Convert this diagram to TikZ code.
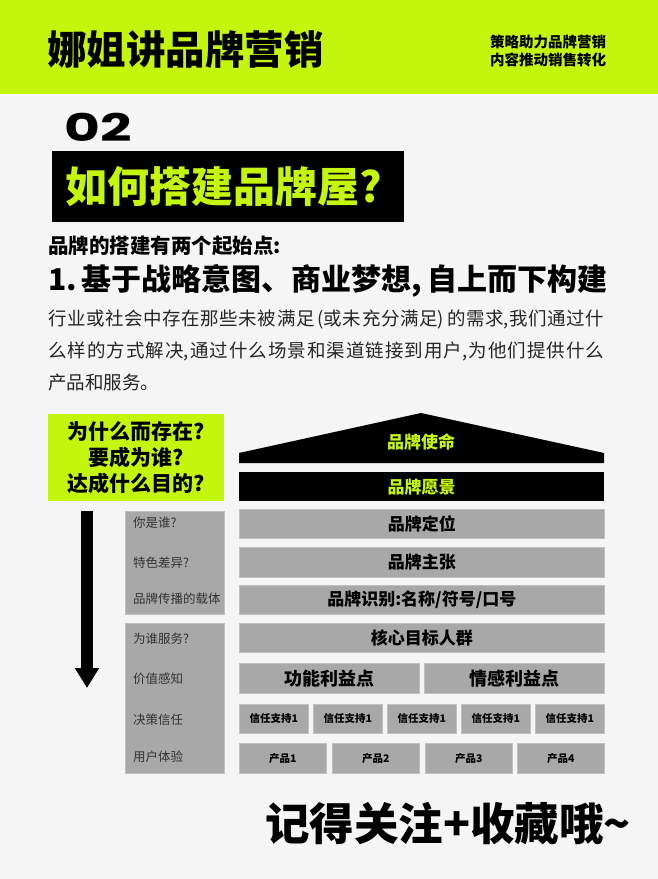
\documentclass[tikz,border=0pt]{standalone}
\usepackage{fontspec}
\setmainfont{Noto Sans CJK SC}
\newfontfamily\heavy{Noto Sans CJK SC}[UprightFont={* Black}]
\newfontfamily\numfont{Poppins}
\usetikzlibrary{arrows.meta}
\XeTeXlinebreaklocale "zh"
\XeTeXlinebreakskip=0pt plus 2pt
\definecolor{lime}{RGB}{196,245,12}
\definecolor{paper}{RGB}{245,245,245}
\definecolor{slab}{RGB}{168,168,168}
\definecolor{slabedge}{RGB}{192,192,192}
\tikzset{
  fs/.style={font=\fontsize{#1pt}{#1pt}\selectfont},
  fsb/.style={font=\bfseries\fontsize{#1pt}{#1pt}\selectfont},
  fsh/.style={font=\heavy\fontsize{#1pt}{#1pt}\selectfont},
  slab/.style={fill=slab, draw=slabedge, line width=0.6pt, inner sep=0pt, anchor=north west},
  darkslab/.style={fill=black, inner sep=0pt, anchor=north west, text=lime, fsb=17},
  side/.style={anchor=west, inner sep=0pt, text=black!80, fs=12.5}
}
\begin{document}
\begin{tikzpicture}[x=1pt,y=-1pt]
\fill[paper] (0,0) rectangle (658,879);
\useasboundingbox (0,0) rectangle (658,879);
\fill[lime] (0,0) rectangle (658,94);
\node[anchor=west, inner sep=0pt, fsh=39.5] (brand) at (47,50) {娜姐讲品牌营销};
\node[anchor=west, inner sep=0pt, align=left, font=\heavy\fontsize{14.5pt}{17.5pt}\selectfont] (slogan) at (490,51) {策略助力品牌营销\\内容推动销售转化};
\node[anchor=west, inner sep=0pt] (num) at (64,127) {\scalebox{1.45}[1]{\numfont\bfseries\fontsize{38pt}{38pt}\selectfont 02}};
\node[anchor=north west, fill=black, text=lime, inner xsep=13pt, inner ysep=0pt, text width=326pt, minimum height=71pt, align=left, fsh=42] (question) at (52,151) {如何搭建品牌屋?};
\node[anchor=west, inner sep=0pt, fsb=20.5] (lead) at (48,246) {品牌的搭建有两个起始点:};
\node[anchor=west, inner sep=0pt, fsh=30] (point) at (48,281) {1.\,基于战略意图、商业梦想,\,自上而下构建};
\node[anchor=base west, inner sep=0pt, text width=556pt, align=justify, text=black!85, font=\fontsize{18.5pt}{32pt}\selectfont] (para) at (48,325) {行业或社会中存在那些未被满足\,(或未充分满足)\,的需求,我们通过什\linebreak 么样的方式解决,通过什么场景和渠道链接到用户,为他们提供什么\linebreak 产品和服务。};

\node[anchor=north west, fill=lime, minimum width=176pt, minimum height=87pt, inner sep=0pt, align=center, font=\heavy\fontsize{21pt}{26pt}\selectfont] (why) at (48,414) {为什么而存在?\\要成为谁?\\达成什么目的?};

\fill (239,463) -- (239,453) -- (421,413) -- (604,453) -- (604,463) -- cycle;
\node[text=lime, fsb=17] (mission) at (421,442) {品牌使命};
\node[darkslab, minimum width=365pt, minimum height=29pt] (vision) at (239,472) {品牌愿景};
\node[slab, minimum width=365pt, minimum height=29pt, fsb=17] (position) at (239,509) {品牌定位};
\node[slab, minimum width=365pt, minimum height=30pt, fsb=17] (claim) at (239,547) {品牌主张};
\node[slab, minimum width=365pt, minimum height=29pt, fsb=17] (identity) at (239,585) {品牌识别:名称/符号/口号};
\node[slab, minimum width=365pt, minimum height=29pt, fsb=17] (target) at (239,623) {核心目标人群};
\node[slab, minimum width=180pt, minimum height=30pt, fsb=18] (func) at (239,663) {功能利益点};
\node[slab, minimum width=180pt, minimum height=30pt, fsb=18] (emo) at (424,663) {情感利益点};
\node[slab, minimum width=69pt, minimum height=29pt, fsb=10.5] (trust1) at (239,704) {信任支持1};
\node[slab, minimum width=69pt, minimum height=29pt, fsb=10.5] (trust2) at (313,704) {信任支持1};
\node[slab, minimum width=69pt, minimum height=29pt, fsb=10.5] (trust3) at (387,704) {信任支持1};
\node[slab, minimum width=69pt, minimum height=29pt, fsb=10.5] (trust4) at (461,704) {信任支持1};
\node[slab, minimum width=69pt, minimum height=29pt, fsb=10.5] (trust5) at (535,704) {信任支持1};
\node[slab, minimum width=87pt, minimum height=30pt, fsb=10.5] (prod1) at (239,743) {产品1};
\node[slab, minimum width=87pt, minimum height=30pt, fsb=10.5] (prod2) at (332,743) {产品2};
\node[slab, minimum width=87pt, minimum height=30pt, fsb=10.5] (prod3) at (425,743) {产品3};
\node[slab, minimum width=87pt, minimum height=30pt, fsb=10.5] (prod4) at (517,743) {产品4};

\node[slab, minimum width=99pt, minimum height=103pt] (upper) at (125,511) {};
\node[slab, minimum width=99pt, minimum height=150pt] (lower) at (125,623) {};
\node[side] (who) at (133,523) {你是谁?};
\node[side] (diff) at (133,563) {特色差异?};
\node[side] (carrier) at (133,599) {品牌传播的载体};
\node[side] (serve) at (133,639) {为谁服务?};
\node[side] (value) at (133,679) {价值感知};
\node[side] (decide) at (133,720) {决策信任};
\node[side] (exp) at (133,757) {用户体验};

\coordinate (top) at (87,511);
\coordinate (tip) at (87,688);
\draw[line width=12pt, -{Triangle[width=23pt,length=20pt]}] (top) -- (tip);

\node[anchor=west, inner sep=0pt, fsh=44.5] (follow) at (265,824) {记得关注+收藏哦\textasciitilde};
\end{tikzpicture}
\end{document}
